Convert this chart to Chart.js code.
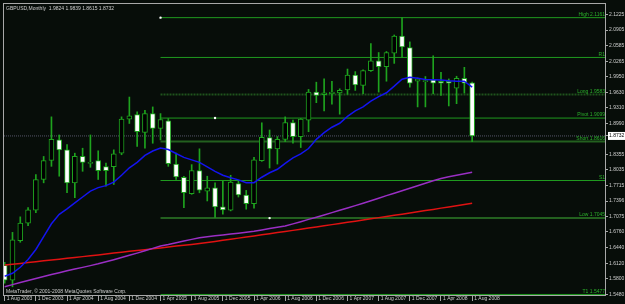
<!DOCTYPE html>
<html>
<head>
<meta charset="utf-8">
<script src="https://cdn.jsdelivr.net/npm/chart.js@4.4.1/dist/chart.umd.min.js"></script>
<style>
html,body{margin:0;padding:0;background:#070d09;}
canvas{display:block;}
</style>
</head>
<body>
<canvas id="c" width="625" height="304"></canvas>
<script>
// ---- DATA (monthly GBPUSD, Aug 2003 .. Aug 2008) ----
const openP = [1.6076,1.5771,1.6584,1.6943,1.7208,1.7838,1.8230,1.8651,1.8447,1.7769,
  1.8311,1.8169,1.8224,1.8102,1.8102,1.8378,1.9078,1.9171,1.8805,1.9191,
  1.8886,1.9043,1.8155,1.7884,1.7545,1.8021,1.7600,1.7667,1.7275,1.7208,
  1.7756,1.7519,1.7342,1.8224,1.8697,1.8468,1.8663,1.9008,1.8718,1.9057,
  1.9632,1.9578,1.9598,1.9618,1.9679,1.9984,1.9769,2.0074,2.0277,2.0155,
  2.0431,2.0785,2.0547,1.9856,1.9846,1.9882,1.9856,1.9856,1.9714,1.9917,
  1.9824];
const highP = [1.6137,1.6752,1.7071,1.7260,1.7939,1.8311,1.9124,1.8752,1.8555,1.8378,
  1.8480,1.8752,1.8427,1.8175,1.8447,1.9124,1.9531,1.9226,1.9260,1.9328,
  1.9191,1.9090,1.8378,1.7905,1.8143,1.8468,1.7905,1.7769,1.7803,1.7925,
  1.7803,1.7614,1.8291,1.9002,1.8854,1.8718,1.9124,1.9057,1.9090,1.9687,
  1.9836,1.9903,1.9856,1.9700,2.0106,2.0053,2.0090,2.0628,2.0445,2.0466,
  2.0805,2.1161,2.0663,1.9923,1.9952,2.0378,2.0039,1.9903,1.9958,2.0141,
  1.9839];
const lowP = [1.5710,1.5634,1.6549,1.6888,1.7159,1.7769,1.8108,1.7905,1.7565,1.7464,
  1.8006,1.8088,1.7838,1.7702,1.7736,1.8346,1.8988,1.8515,1.8480,1.8582,
  1.8651,1.8108,1.7838,1.7260,1.7533,1.7565,1.7397,1.7057,1.7126,1.7193,
  1.7478,1.7228,1.7248,1.8210,1.8074,1.8155,1.8616,1.8582,1.8494,1.8819,
  1.9415,1.9246,1.9382,1.9179,1.9586,1.9667,1.9598,2.0059,1.9632,1.9856,
  2.0222,2.0344,1.9734,1.9328,1.9328,1.9598,1.9565,1.9348,1.9395,1.9612,
  1.8615];
const closeP = [1.5771,1.6598,1.6943,1.7214,1.7838,1.8224,1.8663,1.8447,1.7769,1.8311,
  1.8189,1.8189,1.8021,1.8021,1.8366,1.9078,1.9145,1.8819,1.9191,1.8886,
  1.9069,1.8163,1.7891,1.7565,1.8021,1.7620,1.7667,1.7275,1.7214,1.7783,
  1.7519,1.7342,1.8244,1.8704,1.8468,1.8663,1.9008,1.8718,1.9078,1.9632,
  1.9565,1.9618,1.9632,1.9667,1.9984,1.9781,2.0074,2.0277,2.0155,2.0445,
  2.0785,2.0561,1.9815,1.9903,1.9866,1.9815,1.9815,1.9815,1.9917,1.9815,
  1.8732];
const maBlue = [1.5852,1.5913,1.6035,1.6197,1.6401,1.6665,1.6929,1.7122,1.7234,1.7356,
  1.7478,1.7600,1.7671,1.7712,1.7783,1.7925,1.8078,1.8189,1.8332,1.8423,
  1.8484,1.8454,1.8372,1.8291,1.8240,1.8189,1.8098,1.8006,1.7925,1.7874,
  1.7830,1.7773,1.7773,1.7884,1.7976,1.8047,1.8169,1.8281,1.8362,1.8474,
  1.8663,1.8799,1.8911,1.8992,1.9134,1.9246,1.9328,1.9449,1.9541,1.9618,
  1.9754,1.9897,1.9937,1.9917,1.9891,1.9887,1.9882,1.9866,1.9856,1.9856,
  1.9734];
const maPurple = [1.5637,1.5679,1.5722,1.5765,1.5805,1.5844,1.5885,1.5923,1.5962,1.5998,
  1.6033,1.6069,1.6106,1.6147,1.6191,1.6236,1.6281,1.6326,1.6374,1.6423,
  1.6472,1.6502,1.6541,1.6573,1.6608,1.6641,1.6663,1.6681,1.6700,1.6718,
  1.6736,1.6754,1.6775,1.6801,1.6830,1.6856,1.6884,1.6927,1.6972,1.7019,
  1.7063,1.7110,1.7157,1.7206,1.7252,1.7301,1.7350,1.7401,1.7454,1.7506,
  1.7557,1.7608,1.7659,1.7710,1.7760,1.7811,1.7860,1.7893,1.7923,1.7956,
  1.7986];
const maRed = [1.6080,1.6096,1.6114,1.6132,1.6149,1.6167,1.6185,1.6202,1.6220,1.6236,
  1.6254,1.6273,1.6289,1.6307,1.6326,1.6344,1.6362,1.6378,1.6397,1.6415,
  1.6433,1.6452,1.6470,1.6488,1.6504,1.6523,1.6545,1.6567,1.6590,1.6612,
  1.6634,1.6657,1.6679,1.6702,1.6726,1.6748,1.6771,1.6793,1.6815,1.6840,
  1.6864,1.6887,1.6911,1.6935,1.6960,1.6982,1.7006,1.7031,1.7055,1.7080,
  1.7102,1.7126,1.7151,1.7175,1.7200,1.7224,1.7250,1.7275,1.7299,1.7326,
  1.7350];
const xTickIdx = [0,4,8,12,16,20,24,28,32,36,40,44,48,52,56,60];
const xTickLabels = ['1 Aug 2003','1 Dec 2003','1 Apr 2004','1 Aug 2004','1 Dec 2004','1 Apr 2005',
  '1 Aug 2005','1 Dec 2005','1 Apr 2006','1 Aug 2006','1 Dec 2006','1 Apr 2007','1 Aug 2007',
  '1 Dec 2007','1 Apr 2008','1 Aug 2008'];
const yTickValues = [2.1225,2.0905,2.0585,2.0265,1.9950,1.9630,1.9310,1.8990,1.8732,1.8355,
  1.8035,1.7715,1.7396,1.7075,1.6760,1.6440,1.6120,1.5800,1.5480];
const levelNames = ['High 2.1161','R1','Long 1.9583','Pivot 1.9099','Short 1.8616','S1','Low 1.7045','T1 1.5477'];
const levelValues = [2.1161,2.0344,1.9583,1.9099,1.8616,1.7817,1.7045,1.5477];
const levelStartIdx = 20;
const currentPrice = 1.8732;
const markerIdx = [20,27,34];
const markerPrice = [2.1161,1.9099,1.7045];
const titleText = 'GBPUSD,Monthly  1.9824 1.9839 1.8615 1.8732';
const copyrightText = 'MetaTrader, \u00A9 2001-2008 MetaQuotes Software Corp.';

// ---- STYLE / LAYOUT ----
const X_MIN = -0.09, X_MAX = 77.18;
const Y_MIN = 1.54455, Y_MAX = 2.14414;
const BG = '#070d09';
const GREEN = '#1ea31e';
const FONT = '"Liberation Sans", Arial, sans-serif';
const AXIS_GRAY = '#a8a8a8';
const TEXT_GRAY = '#cfcfcf';
const BRIGHT = {color:'#1f9a1f', w:1, dash:[]};
const DARK = {color:'#23601f', w:2, dash:[]};
const DARK_DOT = {color:'#1f531d', w:2, dash:[2,1]};
const levelStyle = [BRIGHT, BRIGHT, DARK_DOT, BRIGHT, DARK, BRIGHT, DARK, BRIGHT];

const idx = openP.map((_, i) => i);
const bodies = idx.map(i => ({x: i, y: [Math.min(openP[i], closeP[i]), Math.max(openP[i], closeP[i])]}));
const wicks = idx.map(i => ({x: i, y: [lowP[i], highP[i]]}));
const bodyFill = idx.map(i => closeP[i] >= openP[i] ? '#000000' : '#ffffff');

const lineDs = (arr, color) => ({
  type: 'line', data: arr.map((v, i) => ({x: i, y: v})), borderColor: color, borderWidth: 1.5,
  pointRadius: 0, tension: 0, order: 0, fill: false
});

const levelDatasets = levelValues.map((v, k) => ({
  type: 'line', data: [{x: levelStartIdx, y: v}, {x: X_MAX, y: v}],
  borderColor: levelStyle[k].color, borderWidth: levelStyle[k].w, borderDash: levelStyle[k].dash,
  pointRadius: 0, order: 4, fill: false
}));

const mtPlugin = {
  id: 'mt',
  beforeDraw(chart) {
    const c = chart.ctx;
    c.save(); c.fillStyle = BG; c.fillRect(0, 0, chart.width, chart.height); c.restore();
  },
  afterDatasetsDraw(chart) {
    const c = chart.ctx, a = chart.chartArea, ys = chart.scales.y;
    c.save();
    c.font = '5px ' + FONT;
    c.fillStyle = '#2bb02b';
    c.textAlign = 'right';
    c.textBaseline = 'bottom';
    levelNames.forEach((n, k) => {
      c.fillText(n, a.right - 1, ys.getPixelForValue(levelValues[k]) - 0.5);
    });
    c.restore();
  },
  afterDraw(chart) {
    const c = chart.ctx, a = chart.chartArea;
    c.save();
    c.strokeStyle = AXIS_GRAY; c.lineWidth = 1;
    c.strokeRect(Math.round(a.left) - 0.5, Math.round(a.top) - 0.5, Math.round(a.right - a.left), Math.round(a.bottom - a.top));
    c.font = '5px ' + FONT;
    c.fillStyle = TEXT_GRAY;
    c.textAlign = 'left'; c.textBaseline = 'middle';
    c.fillText(titleText, a.left + 2, a.top + 4.5);
    c.fillText(copyrightText, a.left + 2, a.bottom - 4.5);
    c.restore();
  }
};

new Chart(document.getElementById('c'), {
  type: 'bar',
  data: {
    datasets: [
      lineDs(maBlue, '#1414f0'),
      lineDs(maPurple, '#9a2fc4'),
      lineDs(maRed, '#e01212'),
      {type: 'scatter', data: markerIdx.map((v, k) => ({x: v, y: markerPrice[k]})),
        pointRadius: 1.2, pointBackgroundColor: '#ffffff', pointBorderWidth: 0, order: 0},
      {type: 'bar', data: bodies, backgroundColor: bodyFill, borderColor: GREEN, borderWidth: 1,
        borderSkipped: false, grouped: false, barThickness: 5, barPercentage: 1, categoryPercentage: 1,
        minBarLength: 1, order: 1},
      {type: 'bar', data: wicks, backgroundColor: GREEN, borderWidth: 0, grouped: false,
        barThickness: 1, barPercentage: 1, categoryPercentage: 1, order: 2},
      {type: 'line', data: [{x: X_MIN, y: currentPrice}, {x: X_MAX, y: currentPrice}],
        borderColor: '#56566a', borderWidth: 1, borderDash: [1, 1], pointRadius: 0, order: 3},
      ...levelDatasets
    ]
  },
  options: {
    responsive: false, animation: false, devicePixelRatio: 1,
    layout: {padding: {top: 1, left: 1, right: 0, bottom: 0}},
    plugins: {legend: {display: false}, tooltip: {enabled: false}, title: {display: false}},
    scales: {
      x: {
        type: 'linear', min: X_MIN, max: X_MAX, offset: false,
        afterBuildTicks: s => { s.ticks = xTickIdx.map(v => ({value: v})); },
        afterFit: s => { s.height = 8; s.paddingLeft = 0; s.paddingRight = 0; },
        ticks: {
          autoSkip: false, maxRotation: 0, minRotation: 0, align: 'start', labelOffset: 2, padding: -5,
          font: {size: 5, family: FONT}, color: TEXT_GRAY,
          callback: v => { const k = xTickIdx.indexOf(v); return k >= 0 ? xTickLabels[k] : ''; }
        },
        grid: {drawOnChartArea: false, tickLength: 5, color: AXIS_GRAY, offset: false},
        border: {display: false}
      },
      y: {
        type: 'linear', position: 'right', min: Y_MIN, max: Y_MAX,
        afterBuildTicks: s => { s.ticks = yTickValues.map(v => ({value: v})); },
        afterFit: s => { s.width = 19; s.paddingTop = 0; s.paddingBottom = 0; },
        ticks: {
          autoSkip: false, padding: 1, font: {size: 5, family: FONT},
          color: ctx => (ctx.tick && ctx.tick.value === currentPrice) ? '#000000' : TEXT_GRAY,
          showLabelBackdrop: ctx => !!(ctx.tick && ctx.tick.value === currentPrice),
          backdropColor: '#ffffff', backdropPadding: {top: 1, bottom: 1, left: 1, right: 2},
          callback: v => v.toFixed(4)
        },
        grid: {drawOnChartArea: false, tickLength: 2, color: AXIS_GRAY},
        border: {display: false}
      }
    }
  },
  plugins: [mtPlugin]
});
</script>
</body>
</html>
